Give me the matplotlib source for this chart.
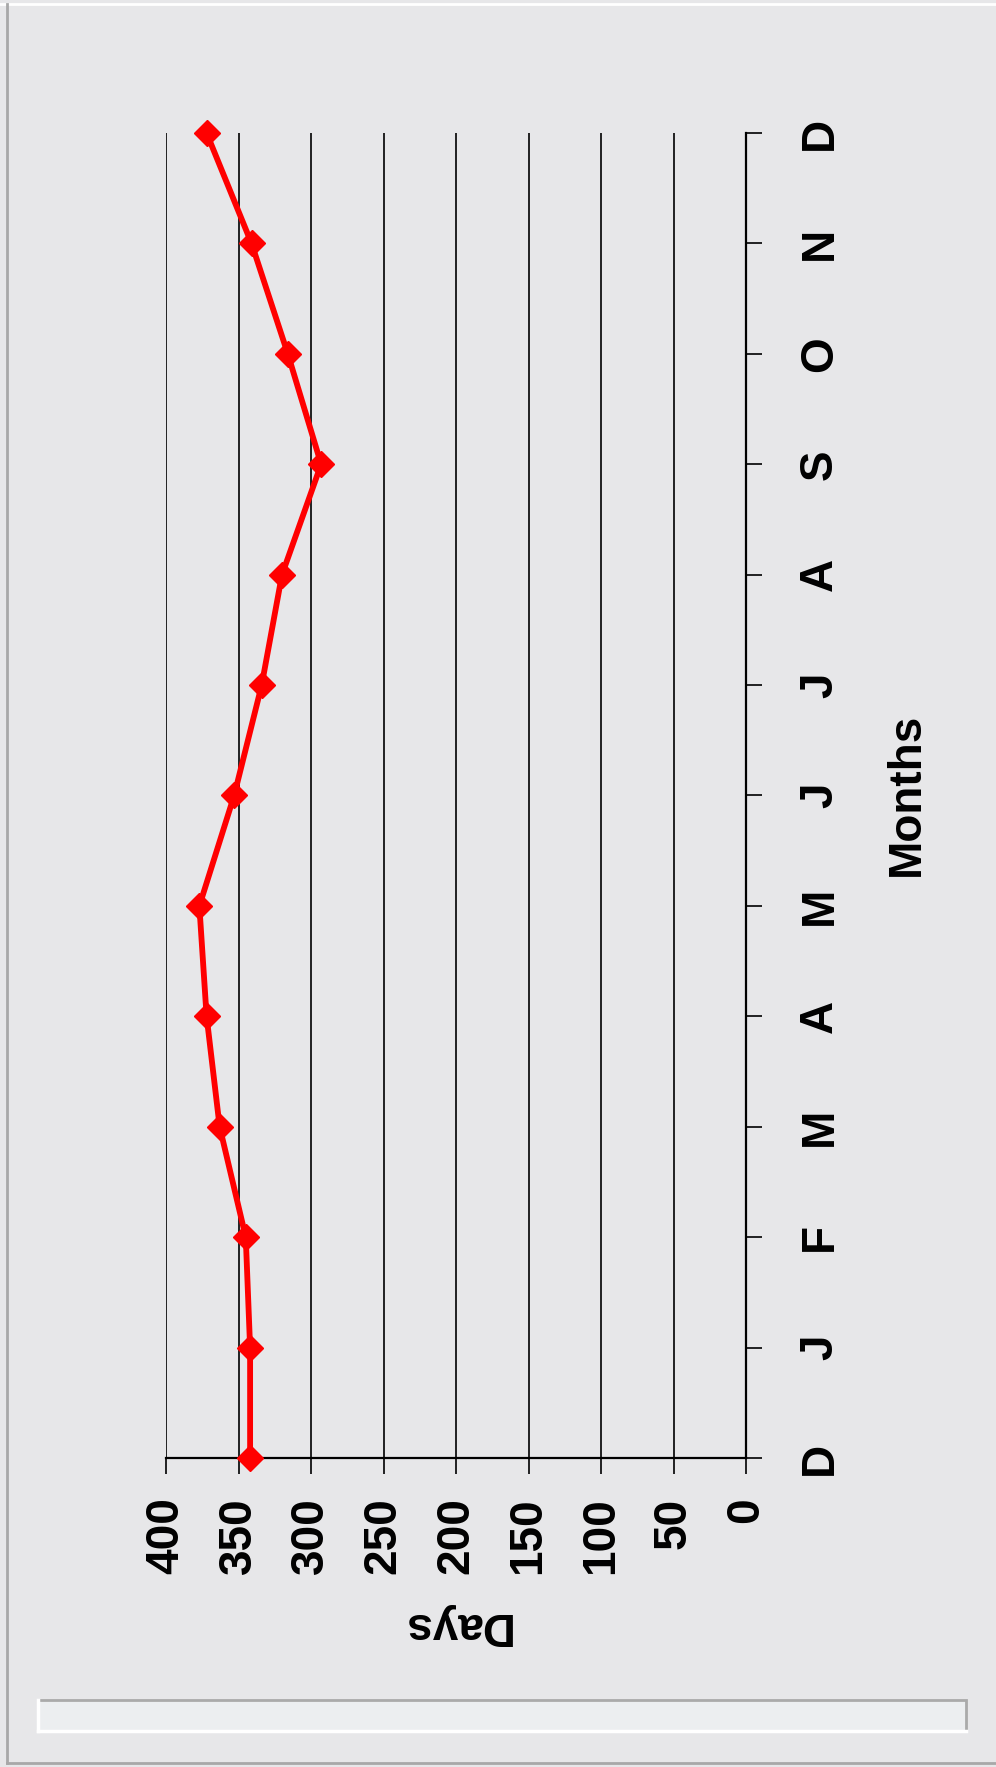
import matplotlib

matplotlib.use("Agg")
import matplotlib.pyplot as plt
from matplotlib.lines import Line2D
from matplotlib.patches import Rectangle

months = ["D", "J", "F", "M", "A", "M", "J", "J", "A", "S", "O", "N", "D"]
days = [342, 342, 345, 363, 372, 377, 353, 334, 320, 293, 316, 341, 372]
day_ticks = [0, 50, 100, 150, 200, 250, 300, 350, 400]

W, H = 996, 1767
BG = "#e7e7e9"
FONT = ["Liberation Sans", "DejaVu Sans"]


def fx(px):
    return px / W


def fy(py):
    return 1 - py / H


fig = plt.figure(figsize=(W / 100, H / 100), dpi=100)
fig.patch.set_facecolor(BG)

# outer frame and the small inset box at the bottom
fig.add_artist(Line2D([fx(0), fx(W)], [fy(4), fy(4)], color="white", lw=2, transform=fig.transFigure))
fig.add_artist(Line2D([fx(7), fx(7)], [fy(4), fy(1763)], color="#a8a8a8", lw=2, transform=fig.transFigure))
fig.add_artist(Line2D([fx(7), fx(W)], [fy(1763), fy(1763)], color="#a8a8a8", lw=2, transform=fig.transFigure))
fig.add_artist(Rectangle((fx(38), fy(1731)), fx(966 - 38), (1731 - 1700) / H,
                         facecolor="#eceef0", edgecolor="#aaaaaa", lw=2, transform=fig.transFigure))
fig.add_artist(Line2D([fx(38), fx(38)], [fy(1700), fy(1731)], color="white", lw=2.5, transform=fig.transFigure))
fig.add_artist(Line2D([fx(38), fx(966)], [fy(1731), fy(1731)], color="white", lw=2.5, transform=fig.transFigure))

ax = fig.add_axes([fx(166), fy(1458), fx(746 - 166), (1458 - 133) / H])
ax.patch.set_alpha(0)

positions = list(range(len(months)))
ax.plot(days, positions, color="#ff0000", lw=4.2, marker="D", ms=13.5,
        markeredgecolor="#ff0000", clip_on=False, zorder=5)

ax.set_xlim(400, 0)
ax.set_ylim(0, len(months) - 1)
ax.set_xticks(day_ticks)
ax.set_xticklabels([str(v) for v in day_ticks], rotation=90,
                   fontsize=33, fontweight="bold", family=FONT)
ax.yaxis.tick_right()
ax.set_yticks(positions)
ax.set_yticklabels(months, rotation=90, va="center",
                   fontsize=33, fontweight="bold", family=FONT)

ax.grid(axis="x", color="black", lw=1.2)
ax.set_axisbelow(True)
for side in ["top", "left"]:
    ax.spines[side].set_visible(False)
for side in ["bottom", "right"]:
    ax.spines[side].set_linewidth(1.6)
ax.tick_params(axis="x", direction="out", length=11.5, width=1.2, pad=17)
ax.tick_params(axis="y", direction="out", length=11.5, width=1.2, pad=26)

fig.text(fx(455), fy(1625), "Days", rotation=180, ha="center", va="center",
         fontsize=33, fontweight="bold", family=FONT)
fig.text(fx(907), fy(794), "Months", rotation=90, ha="center", va="center",
         fontsize=33, fontweight="bold", family=FONT)

fig.savefig("out.png", dpi=100, facecolor=fig.get_facecolor())
